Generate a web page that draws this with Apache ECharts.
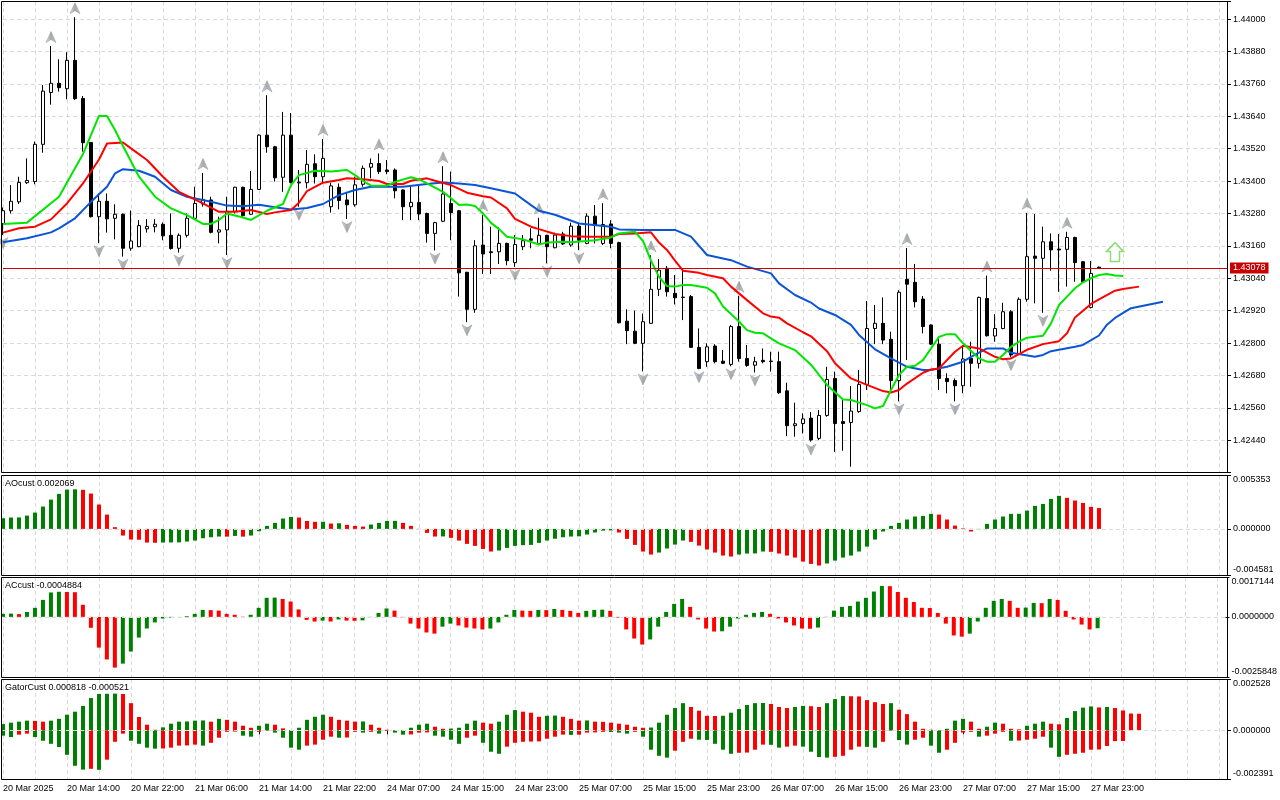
<!DOCTYPE html>
<html>
<head>
<meta charset="utf-8">
<title>EURUSD H1 - AO / AC / Gator</title>
<script src="https://cdn.jsdelivr.net/npm/echarts@6.0.0/dist/echarts.min.js"></script>
<style>
html,body{margin:0;padding:0;background:#fff;}
#chart{width:1280px;height:800px;}
</style>
</head>
<body>
<div id="chart"></div>
<script>
var FONT = "'Liberation Sans', Arial, sans-serif";
var GRID_LINE = '#d9d9d9';
var GREEN = '#008000', RED = '#ff0000';

// hourly bars, two trading sessions (weekend gap)
var sessions = [
	{start: [2025, 2, 20, 6], bars: 42},
	{start: [2025, 2, 24, 1], bars: 112}
];
var monthNames = ['Jan','Feb','Mar','Apr','May','Jun','Jul','Aug','Sep','Oct','Nov','Dec'];

// open, high, low, close
var candles = [
	[1.43243,1.43302,1.43200,1.43290],[1.43290,1.43385,1.43280,1.43325],[1.43323,1.43416,1.43315,1.43395],[1.43394,1.43484,1.43389,1.43402],
	[1.43398,1.43546,1.43388,1.43536],[1.43536,1.43756,1.43505,1.43733],[1.43728,1.43900,1.43683,1.43762],[1.43762,1.43851,1.43731,1.43746],
	[1.43742,1.43877,1.43703,1.43847],[1.43847,1.44007,1.43700,1.43705],[1.43706,1.43715,1.43509,1.43542],[1.43543,1.43545,1.43265,1.43268],
	[1.43268,1.43354,1.43170,1.43325],[1.43325,1.43354,1.43209,1.43260],[1.43262,1.43314,1.43184,1.43277],[1.43277,1.43280,1.43120,1.43151],
	[1.43151,1.43291,1.43142,1.43178],[1.43157,1.43255,1.43155,1.43235],[1.43223,1.43259,1.43209,1.43232],[1.43231,1.43259,1.43210,1.43240],
	[1.43240,1.43247,1.43181,1.43197],[1.43199,1.43280,1.43146,1.43150],[1.43151,1.43206,1.43135,1.43199],[1.43199,1.43280,1.43191,1.43262],
	[1.43262,1.43379,1.43256,1.43317],[1.43315,1.43430,1.43305,1.43332],[1.43330,1.43342,1.43206,1.43210],[1.43211,1.43268,1.43169,1.43219],
	[1.43219,1.43342,1.43126,1.43288],[1.43288,1.43379,1.43280,1.43377],[1.43377,1.43379,1.43268,1.43272],[1.43277,1.43437,1.43274,1.43369],
	[1.43369,1.43573,1.43367,1.43570],[1.43570,1.43718,1.43505,1.43527],[1.43527,1.43530,1.43398,1.43412],[1.43414,1.43656,1.43360,1.43570],
	[1.43570,1.43652,1.43391,1.43395],[1.43393,1.43441,1.43305,1.43396],[1.43394,1.43515,1.43373,1.43462],[1.43464,1.43499,1.43391,1.43416],
	[1.43416,1.43556,1.43391,1.43484],[1.43305,1.43394,1.43283,1.43382],[1.43377,1.43391,1.43295,1.43328],[1.43330,1.43360,1.43259,1.43312],
	[1.43312,1.43416,1.43305,1.43386],[1.43388,1.43457,1.43379,1.43447],[1.43451,1.43484,1.43410,1.43465],[1.43465,1.43502,1.43426,1.43435],
	[1.43441,1.43478,1.43425,1.43435],[1.43441,1.43447,1.43336,1.43364],[1.43367,1.43369,1.43255,1.43305],[1.43305,1.43385,1.43255,1.43321],
	[1.43321,1.43385,1.43255,1.43278],[1.43280,1.43283,1.43172,1.43206],[1.43206,1.43249,1.43143,1.43246],[1.43251,1.43455,1.43248,1.43352],
	[1.43317,1.43435,1.43181,1.43283],[1.43290,1.43293,1.42972,1.43060],[1.43062,1.43064,1.42877,1.42925],[1.42925,1.43181,1.42912,1.43160],
	[1.43163,1.43275,1.43056,1.43130],[1.43138,1.43231,1.43056,1.43135],[1.43138,1.43228,1.43093,1.43169],[1.43169,1.43172,1.43088,1.43105],
	[1.43098,1.43200,1.43082,1.43165],[1.43157,1.43200,1.43144,1.43179],[1.43186,1.43225,1.43151,1.43181],[1.43169,1.43264,1.43167,1.43199],
	[1.43199,1.43201,1.43095,1.43157],[1.43153,1.43209,1.43151,1.43200],[1.43204,1.43212,1.43163,1.43167],[1.43163,1.43246,1.43157,1.43233],
	[1.43233,1.43246,1.43144,1.43181],[1.43169,1.43280,1.43166,1.43270],[1.43270,1.43311,1.43169,1.43237],[1.43169,1.43318,1.43163,1.43239],
	[1.43241,1.43255,1.43151,1.43169],[1.43172,1.43175,1.42873,1.42875],[1.42881,1.42925,1.42796,1.42846],[1.42844,1.42920,1.42796,1.42799],
	[1.42799,1.42909,1.42695,1.42879],[1.42873,1.43125,1.42871,1.42999],[1.42999,1.43111,1.42974,1.43070],[1.43077,1.43085,1.42972,1.42990],
	[1.42984,1.43052,1.42943,1.42968],[1.42969,1.43068,1.42885,1.42970],[1.42972,1.42978,1.42783,1.42784],[1.42784,1.42854,1.42703,1.42706],
	[1.42731,1.42799,1.42712,1.42786],[1.42789,1.42796,1.42725,1.42731],[1.42733,1.42774,1.42722,1.42725],[1.42721,1.42867,1.42714,1.42861],
	[1.42861,1.42975,1.42731,1.42743],[1.42743,1.42793,1.42712,1.42717],[1.42718,1.42749,1.42691,1.42731],[1.42736,1.42780,1.42725,1.42731],
	[1.42733,1.42768,1.42694,1.42732],[1.42731,1.42768,1.42611,1.42616],[1.42623,1.42653,1.42455,1.42494],[1.42494,1.42579,1.42453,1.42501],
	[1.42502,1.42540,1.42465,1.42519],[1.42522,1.42544,1.42435,1.42441],[1.42447,1.42552,1.42441,1.42532],[1.42532,1.42712,1.42527,1.42665],
	[1.42669,1.42694,1.42397,1.42502],[1.42509,1.42589,1.42401,1.42502],[1.42506,1.42641,1.42342,1.42548],[1.42546,1.42700,1.42542,1.42647],
	[1.42647,1.42956,1.42626,1.42854],[1.42854,1.42941,1.42796,1.42873],[1.42873,1.42969,1.42796,1.42811],[1.42814,1.42842,1.42626,1.42661],
	[1.42661,1.42996,1.42584,1.42988],[1.43036,1.43152,1.42737,1.43018],[1.43025,1.43093,1.42932,1.42953],[1.42963,1.42974,1.42836,1.42861],
	[1.42867,1.42869,1.42793,1.42796],[1.42796,1.42817,1.42626,1.42669],[1.42669,1.42688,1.42614,1.42657],[1.42661,1.42669,1.42584,1.42642],
	[1.42642,1.42786,1.42614,1.42741],[1.42743,1.42805,1.42638,1.42725],[1.42725,1.42972,1.42706,1.42969],[1.42965,1.43050,1.42824,1.42827],
	[1.42826,1.42907,1.42805,1.42854],[1.42854,1.42949,1.42851,1.42916],[1.42916,1.42922,1.42748,1.42756],[1.42759,1.42969,1.42756,1.42962],
	[1.42962,1.43282,1.42953,1.43120],[1.43122,1.43278,1.42947,1.43114],[1.43114,1.43231,1.42912,1.43175],[1.43175,1.43206,1.43068,1.43145],
	[1.43148,1.43204,1.42990,1.43145],[1.43147,1.43212,1.43009,1.43191],[1.43191,1.43194,1.43027,1.43098],[1.43101,1.43104,1.43023,1.43027],
	[1.42932,1.43104,1.42928,1.43058],[1.43081,1.43083,1.43075,1.43078]
];

// alligator lines read at [bar, price] (shifted forward 8 / 5 / 3 bars)
var jawLine = [
	[0,1.43173],[3,1.43188],[6,1.43210],[7,1.43225],[9,1.43262],[11,1.43323],[13,1.43379],[14,1.43428],[15,1.43444],[17,1.43438],
	[19,1.43416],[21,1.43367],[23,1.43342],[26,1.43323],[28,1.43309],[30,1.43307],[32,1.43312],[34,1.43303],[36,1.43295],[38,1.43300],
	[40,1.43315],[42,1.43348],[44,1.43367],[46,1.43379],[50,1.43379],[53,1.43389],[55,1.43395],[57,1.43391],[59,1.43385],[61,1.43373],
	[64,1.43354],[66,1.43311],[67,1.43290],[69,1.43275],[72,1.43243],[76,1.43231],[77,1.43221],[80,1.43219],[84,1.43219],[86,1.43194],
	[88,1.43126],[91,1.43107],[93,1.43083],[96,1.43058],[97,1.43021],[99,1.42978],[101,1.42950],[102,1.42928],[104,1.42904],[106,1.42867],
	[107,1.42830],[109,1.42777],[111,1.42743],[113,1.42712],[115,1.42700],[116,1.42700],[118,1.42712],[120,1.42731],[121,1.42749],[123,1.42780],
	[125,1.42780],[126,1.42764],[129,1.42749],[130,1.42756],[131,1.42770],[134,1.42786],[135,1.42793],[137,1.42828],[138,1.42868],[139,1.42893],
	[141,1.42929],[143,1.42941],[145,1.42953]
];
var teethLine = [
	[0,1.43209],[2,1.43225],[4,1.43231],[6,1.43258],[8,1.43317],[10,1.43391],[12,1.43480],[13,1.43539],[15,1.43543],[16,1.43521],
	[18,1.43478],[20,1.43416],[22,1.43360],[25,1.43317],[27,1.43286],[29,1.43286],[31,1.43293],[33,1.43278],[34,1.43284],[36,1.43293],
	[37,1.43320],[38,1.43363],[40,1.43394],[42,1.43404],[43,1.43410],[45,1.43407],[47,1.43400],[48,1.43389],[50,1.43389],[51,1.43401],
	[53,1.43410],[54,1.43401],[56,1.43385],[58,1.43357],[60,1.43344],[61,1.43339],[63,1.43299],[64,1.43260],[66,1.43231],[67,1.43222],
	[69,1.43204],[71,1.43196],[73,1.43194],[76,1.43194],[77,1.43204],[79,1.43206],[81,1.43210],[82,1.43172],[83,1.43145],[84,1.43105],
	[85,1.43068],[86,1.43064],[87,1.43060],[88,1.43052],[90,1.43040],[91,1.43009],[93,1.42959],[95,1.42910],[96,1.42898],[97,1.42894],
	[98,1.42873],[100,1.42840],[101,1.42825],[103,1.42770],[104,1.42725],[106,1.42669],[107,1.42657],[108,1.42645],[110,1.42622],[111,1.42617],
	[112,1.42626],[113,1.42650],[115,1.42690],[116,1.42702],[117,1.42706],[119,1.42768],[120,1.42790],[122,1.42780],[124,1.42749],[125,1.42740],
	[126,1.42743],[128,1.42775],[130,1.42796],[132,1.42807],[133,1.42836],[134,1.42895],[136,1.42945],[137,1.42962],[139,1.42994],[140,1.43000],
	[142,1.43009]
];
var lipsLine = [
	[0,1.43241],[3,1.43246],[7,1.43342],[10,1.43500],[12,1.43641],[13,1.43641],[14,1.43589],[15,1.43530],[17,1.43416],[19,1.43342],
	[21,1.43299],[23,1.43274],[25,1.43241],[26,1.43241],[27,1.43256],[28,1.43280],[30,1.43265],[31,1.43256],[33,1.43290],[35,1.43315],
	[36,1.43385],[37,1.43422],[39,1.43438],[41,1.43435],[43,1.43441],[44,1.43422],[45,1.43401],[46,1.43383],[48,1.43383],[49,1.43397],
	[51,1.43414],[52,1.43406],[53,1.43391],[55,1.43360],[56,1.43336],[57,1.43311],[58,1.43313],[59,1.43308],[60,1.43280],[61,1.43245],
	[62,1.43222],[63,1.43194],[65,1.43184],[67,1.43165],[68,1.43172],[70,1.43175],[71,1.43173],[74,1.43181],[76,1.43191],[77,1.43206],
	[79,1.43212],[80,1.43178],[81,1.43105],[82,1.43045],[83,1.43011],[84,1.43009],[85,1.43015],[86,1.43015],[88,1.43005],[89,1.42984],
	[90,1.42935],[92,1.42880],[93,1.42848],[94,1.42838],[95,1.42836],[97,1.42799],[99,1.42774],[101,1.42720],[102,1.42682],[103,1.42645],
	[105,1.42591],[106,1.42589],[108,1.42570],[109,1.42558],[110,1.42567],[111,1.42626],[112,1.42682],[113,1.42712],[114,1.42716],[115,1.42737],
	[117,1.42823],[118,1.42833],[119,1.42833],[120,1.42799],[122,1.42743],[123,1.42731],[124,1.42731],[125,1.42756],[126,1.42786],[127,1.42805],
	[128,1.42820],[130,1.42827],[131,1.42873],[132,1.42941],[133,1.42972],[134,1.43003],[135,1.43025],[136,1.43040],[137,1.43052],[138,1.43056],
	[139,1.43050],[140,1.43048]
];

// Bill Williams fractals (bar indices)
var upFractalBars = [6, 9, 25, 33, 40, 47, 55, 60, 67, 75, 81, 92, 113, 123, 128, 133];
var downFractalBars = [0, 12, 15, 22, 28, 37, 43, 54, 58, 64, 68, 72, 80, 87, 91, 94, 101, 112, 119, 126, 130];
// signal arrow [bar, price]
var signalArrows = [[139, 1.43137]];

var aoValues = [
	0.00106,0.00113,0.00114,0.00132,0.00162,0.00222,0.00291,0.00348,0.00390,0.00393,
	0.00388,0.00351,0.00242,0.00142,0.00017,-0.00066,-0.00106,-0.00108,-0.00136,-0.00138,
	-0.00136,-0.00135,-0.00134,-0.00126,-0.00116,-0.00093,-0.00083,-0.00076,-0.00077,-0.00070,
	-0.00077,-0.00066,-0.00023,0.00030,0.00060,0.00103,0.00119,0.00113,0.00079,0.00070,
	0.00071,0.00053,0.00056,0.00040,0.00030,0.00023,0.00043,0.00060,0.00079,0.00080,
	0.00060,0.00030,-0.00002,-0.00040,-0.00076,-0.00075,-0.00089,-0.00116,-0.00149,-0.00169,
	-0.00199,-0.00225,-0.00215,-0.00189,-0.00169,-0.00162,-0.00159,-0.00139,-0.00116,-0.00098,
	-0.00083,-0.00076,-0.00074,-0.00056,-0.00036,-0.00017,-0.00015,-0.00036,-0.00099,-0.00159,
	-0.00225,-0.00255,-0.00235,-0.00195,-0.00156,-0.00116,-0.00129,-0.00166,-0.00205,-0.00235,
	-0.00265,-0.00275,-0.00255,-0.00245,-0.00244,-0.00225,-0.00228,-0.00245,-0.00265,-0.00285,
	-0.00325,-0.00348,-0.00364,-0.00344,-0.00315,-0.00285,-0.00265,-0.00225,-0.00176,-0.00106,
	-0.00026,0.00030,0.00060,0.00093,0.00123,0.00129,0.00149,0.00142,0.00093,0.00033,
	0.00005,-0.00026,-0.00002,0.00050,0.00093,0.00123,0.00149,0.00150,0.00182,0.00228,
	0.00248,0.00298,0.00328,0.00308,0.00282,0.00258,0.00219,0.002069
];
var acValues = [
	0.00013,0.00014,0.00012,0.00021,0.00039,0.00073,0.00105,0.00108,0.00107,0.00106,
	0.00052,-0.00047,-0.00132,-0.00183,-0.00218,-0.00201,-0.00149,-0.00089,-0.00050,-0.00024,
	-0.00007,-0.00003,0.000003,0.00003,0.00013,0.00030,0.00029,0.00027,0.00013,0.00009,
	0.00001,0.00009,0.00039,0.00082,0.00083,0.00077,0.00066,0.00032,-0.00013,-0.00020,
	-0.00016,-0.00020,-0.00011,-0.00016,-0.00017,-0.00015,-0.00001,0.00017,0.00036,0.00027,
	-0.00002,-0.00029,-0.00050,-0.00067,-0.00072,-0.00042,-0.00029,-0.00037,-0.00046,-0.00050,
	-0.00054,-0.00050,-0.00024,0.00009,0.00030,0.00027,0.00026,0.00030,0.00029,0.00034,
	0.00030,0.00026,0.00017,0.00026,0.00030,0.00031,0.00026,-0.00003,-0.00054,-0.00093,
	-0.00119,-0.00097,-0.00042,0.00021,0.00056,0.00077,0.00043,-0.00011,-0.00050,-0.00063,
	-0.00062,-0.00042,-0.00007,0.00009,0.00017,0.00021,0.00013,-0.00007,-0.00024,-0.00037,
	-0.00050,-0.00051,-0.00046,-0.00001,0.00027,0.00043,0.00047,0.00066,0.00082,0.00109,
	0.00133,0.00132,0.00107,0.00082,0.00064,0.00039,0.00038,0.00017,-0.00029,-0.00080,
	-0.00085,-0.00072,-0.00020,0.00039,0.00069,0.00077,0.00069,0.00039,0.00040,0.00060,
	0.00059,0.00077,0.00073,0.00026,-0.00011,-0.00033,-0.00054,-0.0004884
];
var gatorUpper = [
	0.00031,0.00038,0.00043,0.00048,0.00047,0.00043,0.00048,0.00057,0.00077,0.00092,
	0.00120,0.00159,0.00179,0.00180,0.00181,0.00179,0.00134,0.00066,0.00028,0.00003,
	0.00015,0.00033,0.00043,0.00044,0.00048,0.00049,0.00043,0.00057,0.00052,0.00043,
	0.00023,0.00013,0.00023,0.00033,0.00028,0.00010,0.00002,0.00013,0.00052,0.00067,
	0.00077,0.00067,0.00052,0.00048,0.00043,0.00044,0.00028,0.00013,0.00003,0.00001,
	0.00002,0.00013,0.00028,0.00033,0.00018,0.00008,0.00009,0.00013,0.00033,0.00048,
	0.00038,0.00033,0.00043,0.00077,0.00100,0.00092,0.00087,0.00067,0.00072,0.00073,
	0.00067,0.00057,0.00048,0.00049,0.00043,0.00042,0.00038,0.00033,0.00028,0.00018,
	0.00013,0.00014,0.00038,0.00077,0.00110,0.00134,0.00115,0.00097,0.00072,0.00071,
	0.00072,0.00087,0.00105,0.00125,0.00134,0.00135,0.00130,0.00115,0.00110,0.00115,
	0.00120,0.00119,0.00115,0.00134,0.00154,0.00169,0.00168,0.00167,0.00149,0.00139,
	0.00130,0.00134,0.00102,0.00080,0.00043,0.00008,0.00003,0.00001,0.00008,0.00048,
	0.00057,0.00043,0.00008,0.00018,0.00038,0.00033,0.00008,0.00005,0.00023,0.00033,
	0.00043,0.00033,0.00030,0.00061,0.00095,0.00112,0.00118,0.00113,0.00115,0.00110,
	0.00098,0.00083,0.000818
];
var gatorLower = [
	-0.00026,-0.00033,-0.00021,-0.00016,-0.00033,-0.00051,-0.00066,-0.00082,-0.00120,-0.00174,
	-0.00193,-0.00189,-0.00194,-0.00144,-0.00056,-0.00016,-0.00051,-0.00066,-0.00085,-0.00090,
	-0.00089,-0.00085,-0.00075,-0.00074,-0.00070,-0.00075,-0.00061,-0.00036,-0.00007,-0.00006,
	-0.00026,-0.00031,-0.00007,-0.00002,-0.00011,-0.00036,-0.00085,-0.00095,-0.00075,-0.00070,
	-0.00046,-0.00031,-0.00036,-0.00035,-0.00007,-0.00011,-0.00007,-0.00016,-0.00003,-0.00011,
	-0.00021,-0.00020,-0.00011,-0.00010,-0.00026,-0.00031,-0.00046,-0.00066,-0.00036,-0.00026,
	-0.00061,-0.00105,-0.00115,-0.00080,-0.00061,-0.00056,-0.00055,-0.00054,-0.00041,-0.00031,
	-0.00021,-0.00022,-0.00021,-0.00011,-0.00010,-0.00007,-0.00008,-0.00011,-0.00016,-0.00007,
	-0.00031,-0.00095,-0.00125,-0.00134,-0.00100,-0.00056,-0.00041,-0.00046,-0.00047,-0.00066,
	-0.00095,-0.00115,-0.00110,-0.00109,-0.00095,-0.00070,-0.00071,-0.00085,-0.00080,-0.00075,
	-0.00080,-0.00105,-0.00131,-0.00134,-0.00130,-0.00125,-0.00095,-0.00080,-0.00081,-0.00085,
	-0.00056,-0.00002,-0.00048,-0.00070,-0.00046,-0.00036,-0.00075,-0.00110,-0.00095,-0.00061,
	-0.00011,-0.00007,-0.00031,-0.00026,-0.00016,-0.00007,-0.00051,-0.00050,-0.00046,-0.00041,
	-0.00031,-0.00085,-0.00130,-0.00120,-0.00115,-0.00110,-0.00095,-0.00094,-0.00077,-0.00053,
	-0.000521
];

// window scales shown on the right
var priceScale = {min: 1.4232, max: 1.44065, step: 0.0012};
var aoScale = {min: -0.004581, max: 0.005353, digits: 6};
var acScale = {min: -0.0025848, max: 0.0017144, digits: 7};
var gatorScale = {min: -0.002391, max: 0.002528, digits: 6};

function pad(n){ return n < 10 ? '0' + n : '' + n; }

var timeLabels = [];
sessions.forEach(function(s){
	var t0 = Date.UTC(s.start[0], s.start[1], s.start[2], s.start[3]);
	for (var k = 0; k < s.bars; k++) {
		var d = new Date(t0 + k * 3600000);
		var day = d.getUTCDate() + ' ' + monthNames[d.getUTCMonth()];
		if (timeLabels.length === 0) timeLabels.push(day + ' ' + d.getUTCFullYear());
		else timeLabels.push(day + ' ' + pad(d.getUTCHours()) + ':00');
	}
});

var lastBar = candles.length - 1;
var lastClose = candles[lastBar][3];

function labelFilter(i){ return i % 8 === 0 && i <= lastBar; }

// AO/AC: green when rising; Gator: green when the bar grows
function histData(values, byMagnitude){
	return values.map(function(v, i){
		var prev = i > 0 ? values[i - 1] : null;
		var up = prev === null || (byMagnitude ? Math.abs(v) > Math.abs(prev) : v > prev);
		return {value: v, itemStyle: {color: up ? GREEN : RED}};
	});
}

function makeX(gi, withLabels){
	return {
		type: 'category', gridIndex: gi, data: timeLabels, boundaryGap: false,
		axisLine: {show: false},
		axisTick: withLabels ? {show: true, interval: labelFilter, length: 4, lineStyle: {color: '#000'}} : {show: false},
		axisLabel: withLabels ? {show: true, interval: labelFilter, align: 'left', margin: 5, fontSize: 9, color: '#000', fontFamily: FONT} : {show: false},
		splitLine: {show: true, interval: 3, lineStyle: {color: GRID_LINE, type: [4, 3], width: 1}}
	};
}

function makeSubY(gi, sc){
	var edge = function(a, b){ return Math.abs(a - b) < 1e-10; };
	return {
		type: 'value', gridIndex: gi, position: 'right',
		min: sc.min, max: sc.max, interval: Math.max(sc.max, -sc.min),
		axisLine: {show: false},
		axisTick: {show: true, length: 4, lineStyle: {color: '#000'}, customValues: [sc.min, 0, sc.max]},
		splitLine: {show: false},
		axisLabel: {
			margin: 6, fontSize: 9, color: '#000', fontFamily: FONT,
			customValues: [sc.min, 0, sc.max],
			formatter: function(v){
				var s = (edge(v, 0) ? 0 : v).toFixed(sc.digits);
				if (edge(v, sc.max)) return '{t|' + s + '}';
				if (edge(v, sc.min)) return '{b|' + s + '}';
				return s;
			},
			rich: {
				t: {fontSize: 9, color: '#000', fontFamily: FONT, padding: [10, 0, 0, 0]},
				b: {fontSize: 9, color: '#000', fontFamily: FONT, padding: [0, 0, 10, 0]}
			}
		}
	};
}

function zeroLine(){
	return {
		silent: true, symbol: 'none', label: {show: false},
		lineStyle: {color: '#dcdcdc', type: [4, 3], width: 1},
		data: [{yAxis: 0}]
	};
}

function frame(y, h){
	return {type: 'rect', z: 100, silent: true, shape: {x: 1.5, y: y, width: 1226, height: h},
		style: {fill: 'none', stroke: '#000', lineWidth: 1}};
}

var arrowUp = 'path://M5,0 L10,11 L5,8 L0,11 Z';
var arrowDown = 'path://M0,0 L5,3 L10,0 L5,11 Z';
var arrowFill = {type: 'linear', x: 0, y: 0, x2: 1, y2: 0, colorStops: [
	{offset: 0, color: '#d4d8dc'}, {offset: 0.5, color: '#8f949a'}, {offset: 1, color: '#b8bcc0'}]};

var chart = echarts.init(document.getElementById('chart'));

var captionStyle = {fontSize: 9, fontWeight: 'normal', color: '#000', fontFamily: FONT};

var option = {
	animation: false,
	backgroundColor: '#fff',
	textStyle: {fontFamily: FONT},
	title: [
		{text: 'AOcust ' + aoValues[aoValues.length - 1].toFixed(6), left: 5, top: 479, padding: 0, textStyle: captionStyle},
		{text: 'ACcust ' + acValues[acValues.length - 1].toFixed(7), left: 5, top: 581, padding: 0, textStyle: captionStyle},
		{text: 'GatorCust ' + gatorUpper[gatorUpper.length - 1].toFixed(6) + ' ' + gatorLower[gatorLower.length - 1].toFixed(6),
			left: 5, top: 683, padding: 0, textStyle: captionStyle}
	],
	grid: [
		{left: 3, right: 53, top: 1.5, height: (priceScale.max - priceScale.min) * 27000},
		{left: 3, right: 53, top: 475, height: 100},
		{left: 3, right: 53, top: 577, height: 100},
		{left: 3, right: 53, top: 679, height: 100}
	],
	xAxis: [makeX(0, false), makeX(1, false), makeX(2, false), makeX(3, true)],
	yAxis: [
		{
			type: 'value', gridIndex: 0, position: 'right',
			min: priceScale.min, max: priceScale.max, interval: priceScale.step,
			axisLine: {show: false},
			axisTick: {show: true, length: 4, lineStyle: {color: '#000'}},
			splitLine: {show: true, lineStyle: {color: GRID_LINE, type: [4, 3], width: 1}},
			axisLabel: {
				margin: 6, fontSize: 9, color: '#000', fontFamily: FONT,
				formatter: function(v){
					var k = v / priceScale.step;
					if (Math.abs(k - Math.round(k)) > 1e-6 || v < priceScale.min + 0.0006) return '';
					return v.toFixed(5);
				}
			}
		},
		makeSubY(1, aoScale), makeSubY(2, acScale), makeSubY(3, gatorScale)
	],
	graphic: [frame(1.5, 471), frame(475.5, 100), frame(577.5, 100), frame(679.5, 100)],
	series: [
		{
			type: 'candlestick', xAxisIndex: 0, yAxisIndex: 0, clip: false, barWidth: 4,
			data: candles.map(function(c){ return [c[0], c[3], c[2], c[1]]; }),
			itemStyle: {color: '#fff', color0: '#000', borderColor: '#000', borderColor0: '#000', borderWidth: 1}
		},
		{type: 'line', xAxisIndex: 0, yAxisIndex: 0, data: jawLine, showSymbol: false,
			lineStyle: {color: '#0a55d6', width: 2},
			markLine: {
				silent: true, symbol: 'none', precision: 5,
				lineStyle: {color: '#d00000', width: 1, type: 'solid'},
				label: {show: true, position: 'end', distance: 3, formatter: lastClose.toFixed(5),
					color: '#fff', backgroundColor: '#c80000', padding: [1, 3, 1, 3], fontSize: 9, fontFamily: FONT},
				data: [{yAxis: lastClose}]
			}},
		{type: 'line', xAxisIndex: 0, yAxisIndex: 0, data: teethLine, showSymbol: false,
			lineStyle: {color: '#ff0000', width: 2}},
		{type: 'line', xAxisIndex: 0, yAxisIndex: 0, data: lipsLine, showSymbol: false,
			lineStyle: {color: '#00e600', width: 2}},
		{type: 'scatter', xAxisIndex: 0, yAxisIndex: 0, symbol: arrowUp, symbolSize: [10, 11], symbolOffset: [0, -9],
			itemStyle: {color: arrowFill, borderColor: '#7d8288', borderWidth: 0.5},
			data: upFractalBars.map(function(i){ return [i, candles[i][1]]; })},
		{type: 'scatter', xAxisIndex: 0, yAxisIndex: 0, symbol: arrowDown, symbolSize: [10, 11], symbolOffset: [0, 8],
			itemStyle: {color: arrowFill, borderColor: '#7d8288', borderWidth: 0.5},
			data: downFractalBars.map(function(i){ return [i, candles[i][2]]; })},
		{type: 'scatter', xAxisIndex: 0, yAxisIndex: 0, clip: false,
			symbol: 'path://M8.5,0 L17,9 L13,9 L13,19 L4,19 L4,9 L0,9 Z', symbolSize: [17, 19],
			itemStyle: {color: 'rgba(255,255,255,0)', borderColor: '#6fd44f', borderWidth: 1.5},
			data: signalArrows},
		{type: 'bar', xAxisIndex: 1, yAxisIndex: 1, barWidth: 4, data: histData(aoValues, false), markLine: zeroLine()},
		{type: 'bar', xAxisIndex: 2, yAxisIndex: 2, barWidth: 4, data: histData(acValues, false), markLine: zeroLine()},
		{type: 'bar', xAxisIndex: 3, yAxisIndex: 3, barWidth: 4, barGap: '-100%', data: histData(gatorUpper, true)},
		{type: 'bar', xAxisIndex: 3, yAxisIndex: 3, barWidth: 4, barGap: '-100%', data: histData(gatorLower, true), markLine: zeroLine()}
	]
};

chart.setOption(option);
</script>
</body>
</html>
